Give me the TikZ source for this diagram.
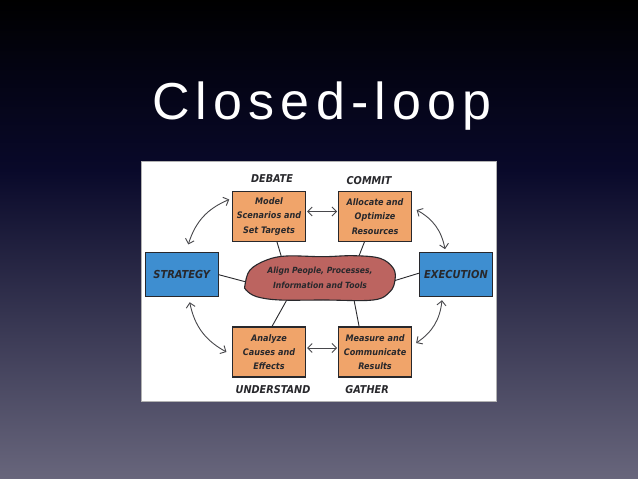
\documentclass[tikz,border=0pt]{standalone}
\usepackage{fontspec}
\setmainfont{Liberation Sans}
\newfontfamily\titlefont{Liberation Sans}[LetterSpace=12]
\newfontfamily\handfont{DejaVu Sans Condensed}
\usetikzlibrary{arrows.meta, positioning, shapes.geometric}

\definecolor{slidetop}{RGB}{0,0,0}
\definecolor{slidenavy}{RGB}{3,3,16}
\definecolor{slidedeep}{RGB}{9,9,42}
\definecolor{slidemid}{RGB}{57,56,84}
\definecolor{slidebot}{RGB}{104,102,124}
\definecolor{stageorange}{RGB}{240,164,106}
\definecolor{pillarblue}{RGB}{62,142,208}
\definecolor{hubred}{RGB}{188,100,96}
\definecolor{ink}{RGB}{40,40,44}

\pgfdeclarelayer{back}
\pgfdeclarelayer{links}
\pgfsetlayers{back,links,main}

\tikzset{
  stage/.style     = {rectangle, draw=ink, line width=1.1pt, fill=stageorange,
                      minimum width=73pt, minimum height=50pt, align=center,
                      inner sep=1pt, text=ink,
                      font=\handfont\bfseries\itshape\fontsize{9}{14.3}\selectfont},
  pillar/.style    = {rectangle, draw=ink, line width=1.1pt, fill=pillarblue,
                      minimum width=73pt, minimum height=44pt, text=ink,
                      font=\handfont\bfseries\itshape\fontsize{11}{12}\selectfont},
  phase/.style     = {inner sep=0pt, text=ink,
                      font=\handfont\bfseries\itshape\fontsize{10.8}{12}\selectfont},
  hub/.style       = {ellipse, minimum width=150pt, minimum height=47pt,
                      align=center, inner sep=0pt, text=ink,
                      font=\handfont\bfseries\itshape\fontsize{8.5}{15}\selectfont},
  hubshape/.style  = {draw=ink, line width=1.1pt, fill=hubred},
  link/.style      = {draw=ink, line width=0.9pt},
  looparrow/.style = {{Straight Barb[length=4.5pt,width=9pt]}-{Straight Barb[length=4.5pt,width=9pt]},
                      draw=ink!85, line width=0.9pt},
}

\begin{document}
\begin{tikzpicture}[x=1pt, y=1pt]
  % slide background and white panel
  \begin{pgfonlayer}{back}
    \shade[top color=slidetop, bottom color=slidenavy] (0,418.5) rectangle (638,479);
    \shade[top color=slidenavy, bottom color=slidedeep] (0,308.5) rectangle (638,419);
    \shade[top color=slidedeep, middle color=slidemid, bottom color=slidebot] (0,0) rectangle (638,309);
    \fill[white, draw=black!30, line width=0.6pt] (141.5,77.3) rectangle (496.5,318);
  \end{pgfonlayer}
  \useasboundingbox (0,0) rectangle (638,479);

  \node[font=\titlefont\fontsize{52}{60}\selectfont, text=white, anchor=base] (title)
    at (322,359) {Closed-loop};

  % hub blob
  \draw[hubshape] plot[smooth cycle, tension=0.6] coordinates {
    (245,194) (250,209) (266.7,219) (286.7,223) (323.3,222.3) (353.3,223.3)
    (380,220.7) (393.3,210.7) (395,199) (390,187.3) (373.3,179) (323.3,179)
    (280,179) (256.7,182.3) (246,189)};
  \node[hub] (align) at (320,201) {Align People, Processes,\\Information and Tools};

  \node[stage] (model) at (269,262.5) {Model\\Scenarios and\\Set Targets};
  \node[stage, right=32pt of model] (allocate) {Allocate and\\Optimize\\Resources};
  \node[stage] (analyze) at (269,127) {Analyze\\Causes and\\Effects};
  \node[stage, right=32pt of analyze] (measure) {Measure and\\Communicate\\Results};
  \node[pillar] (strategy) at (181.7,204.3) {STRATEGY};
  \node[pillar] (execution) at (456,204.3) {EXECUTION};

  \node[phase, above=8pt of model, xshift=3pt] (debate) {DEBATE};
  \node[phase, above=6pt of allocate, xshift=-6pt] (commit) {COMMIT};
  \node[phase, below=7.5pt of analyze, xshift=4pt] (understand) {UNDERSTAND};
  \node[phase, below=7.5pt of measure, xshift=-8pt] (gather) {GATHER};

  % spokes into the hub
  \begin{pgfonlayer}{links}
    \draw[link] ([xshift=8pt]model.south) -- (align.152);
    \draw[link] ([xshift=-10.7pt]allocate.south) -- (align.28);
    \draw[link] ([xshift=3pt]analyze.north) -- (align.213);
    \draw[link] ([xshift=-16pt]measure.north) -- (align.-32);
    \draw[link] (strategy.east) -- (align.183);
    \draw[link] ([yshift=1.5pt]execution.west) -- (align.-2);
  \end{pgfonlayer}

  % the loop
  \draw[looparrow] ([xshift=6.6pt,yshift=7.7pt]strategy.north) to[bend left=25] ([xshift=-2.7pt,yshift=17pt]model.west);
  \draw[looparrow, shorten <=1pt, shorten >=1pt] ([yshift=5pt]model.east) -- ([yshift=5pt]allocate.west);
  \draw[looparrow] ([xshift=4.5pt,yshift=6.5pt]allocate.east) to[bend left=25] ([xshift=-11pt,yshift=3pt]execution.north);
  \draw[looparrow] ([xshift=-14pt,yshift=-3pt]execution.south) to[bend left=25] ([xshift=4pt,yshift=9pt]measure.east);
  \draw[looparrow, shorten <=1pt, shorten >=1pt] ([yshift=4pt]measure.west) -- ([yshift=4pt]analyze.east);
  \draw[looparrow] ([xshift=-5.5pt]analyze.west) to[bend left=25] ([xshift=8pt,yshift=-5pt]strategy.south);
\end{tikzpicture}
\end{document}
